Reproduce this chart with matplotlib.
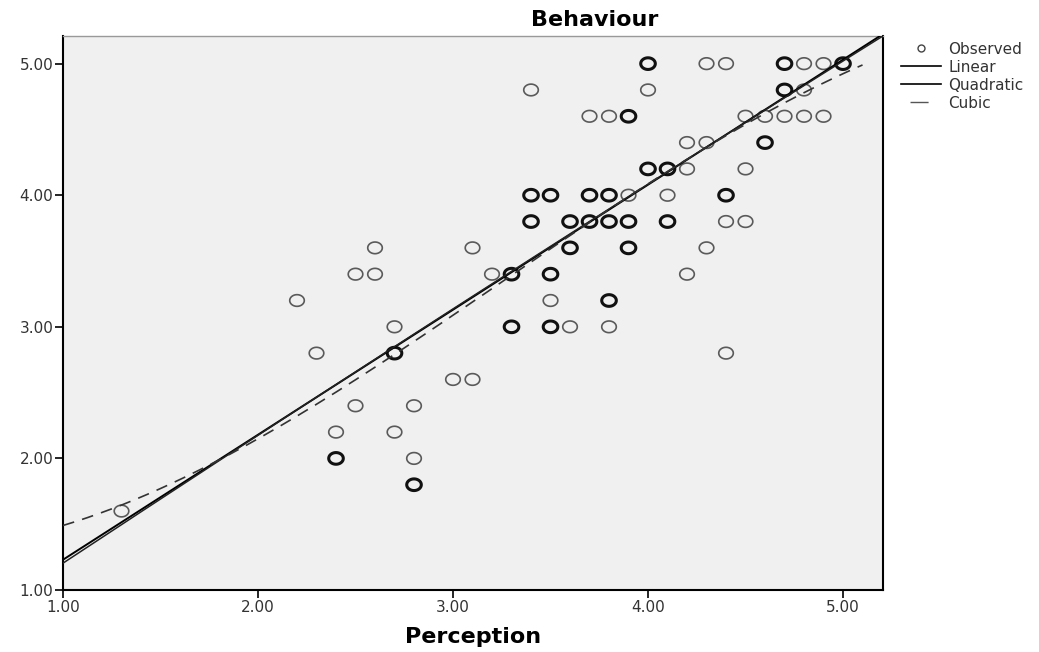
import numpy as np
import matplotlib.pyplot as plt
from matplotlib.lines import Line2D
from matplotlib.path import Path

plt.rcParams['font.family'] = ['DejaVu Sans']

# observed cases: perception, behaviour, and how many cases share the spot
perception = [4.0, 4.3, 4.4, 4.7, 4.8, 4.9, 5.0,
              3.4, 4.0, 4.7, 4.8,
              3.7, 3.8, 3.9, 4.5, 4.6, 4.7, 4.8, 4.9,
              4.2, 4.3, 4.6,
              4.0, 4.1, 4.2, 4.5,
              3.4, 3.5, 3.7, 3.8, 3.9, 4.1, 4.4,
              3.4, 3.6, 3.7, 3.8, 3.9, 4.1, 4.4, 4.5,
              2.6, 3.1, 3.6, 3.9, 4.3,
              2.5, 2.6, 3.2, 3.3, 3.5, 4.2,
              2.2, 3.5, 3.8,
              2.7, 3.3, 3.5, 3.6, 3.8,
              2.3, 2.7, 4.4,
              3.0, 3.1,
              2.5, 2.8,
              2.4, 2.7,
              2.4, 2.8,
              2.8,
              1.3]
behaviour = [5.0] * 7 + [4.8] * 4 + [4.6] * 8 + [4.4] * 3 + [4.2] * 4 + \
    [4.0] * 7 + [3.8] * 8 + [3.6] * 5 + [3.4] * 6 + [3.2] * 3 + \
    [3.0] * 5 + [2.8] * 3 + [2.6] * 2 + [2.4] * 2 + [2.2] * 2 + \
    [2.0] * 2 + [1.8] + [1.6]
cases = [2, 1, 1, 2, 1, 1, 2,
         1, 1, 2, 1,
         1, 1, 2, 1, 1, 1, 1, 1,
         1, 1, 2,
         2, 2, 1, 1,
         2, 2, 2, 2, 1, 1, 2,
         2, 2, 2, 2, 2, 2, 1, 1,
         1, 1, 2, 2, 1,
         1, 1, 1, 2, 2, 1,
         1, 1, 2,
         1, 2, 2, 1, 1,
         1, 2, 1,
         1, 1,
         1, 1,
         1, 1,
         2, 1,
         2,
         1]

# curve estimation coefficients (highest power first)
linear_coef = [0.95, 0.28]
quadratic_coef = [-0.006, 0.99, 0.22]
cubic_coef = [-0.0367, 0.360, -0.164, 1.331]

x = np.array(perception)
y = np.array(behaviour)
n = np.array(cases)

# SPSS circles come out a bit wider than tall
t = np.linspace(0, 2 * np.pi, 60)
oval = Path(np.column_stack([np.cos(t), 0.8 * np.sin(t)]), closed=True)

fig = plt.figure(figsize=(10.39, 6.52), dpi=100)
ax = fig.add_axes([63 / 1039, 1 - 590 / 652, 820 / 1039, 554 / 652])
ax.set_facecolor('#f0f0f0')

single = n == 1
ax.scatter(x[single], y[single], s=110, marker=oval, facecolors='none',
           edgecolors='#5a5a5a', linewidths=1.2, zorder=3)
ax.scatter(x[~single], y[~single], s=110, marker=oval, facecolors='none',
           edgecolors='#111111', linewidths=2.2, zorder=3)

xs = np.linspace(1.0, 5.25, 200)
ax.plot(xs, np.polyval(linear_coef, xs), color='black', lw=1.4, zorder=4)
ax.plot(xs, np.polyval(quadratic_coef, xs), color='#222222', lw=1.1,
        zorder=4)
xc = np.linspace(1.0, 5.1, 200)
ax.plot(xc, np.polyval(cubic_coef, xc), color='#333333', lw=1.2,
        dashes=(7, 5), zorder=4)

ax.set_xlim(1.0, 5.205)
ax.set_ylim(1.0, 5.21)
ax.set_xticks([1, 2, 3, 4, 5])
ax.set_yticks([1, 2, 3, 4, 5])
ax.set_xticklabels(['1.00', '2.00', '3.00', '4.00', '5.00'])
ax.set_yticklabels(['1.00', '2.00', '3.00', '4.00', '5.00'])
ax.tick_params(direction='out', length=6, width=1.2, labelsize=11,
               colors='black', labelcolor='#333333', pad=1)
for side in ['left', 'bottom', 'right']:
    ax.spines[side].set_linewidth(1.5)
    ax.spines[side].set_color('black')
ax.spines['top'].set_color('#999999')
ax.spines['top'].set_linewidth(1.0)

ax.set_xlabel('Perception', fontsize=16, fontweight='bold', labelpad=9)
fig.text(0.572, 0.969, 'Behaviour', fontsize=16, fontweight='bold',
         ha='center', va='center')

handles = [Line2D([], [], marker='o', ls='none', mfc='none', mec='#444444',
                  ms=5),
           Line2D([], [], color='black', lw=1.2),
           Line2D([], [], color='black', lw=1.2),
           Line2D([], [], color='#555555', lw=1.0, ls=(46.5, (13, 40)))]
fig.legend(handles, ['Observed', 'Linear', 'Quadratic', 'Cubic'],
           loc='upper left', bbox_to_anchor=(0.860, 0.948), frameon=False,
           fontsize=11, labelcolor='#333333', handlelength=2.6,
           handletextpad=0.5, labelspacing=0.2, borderpad=0)

fig.savefig('out.png', dpi=100)
